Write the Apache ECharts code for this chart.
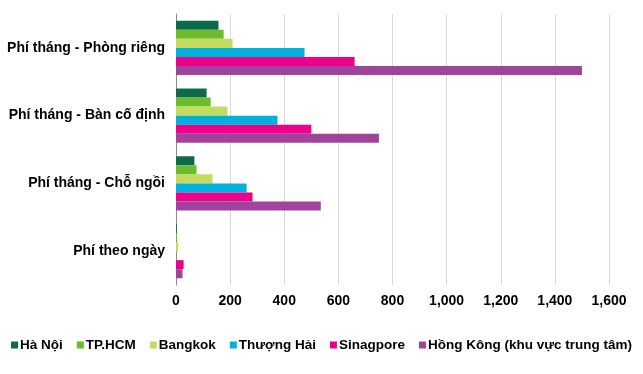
<!DOCTYPE html>
<html><head><meta charset="utf-8">
<script src="https://cdn.jsdelivr.net/npm/echarts@6/dist/echarts.min.js"></script>
<style>html,body{margin:0;padding:0;background:#fff}#c{width:643px;height:374px}</style>
</head><body><div id="c"></div>
<script>
const categories = ["Phí tháng - Phòng riêng", "Phí tháng - Bàn cố định", "Phí tháng - Chỗ ngồi", "Phí theo ngày"];
const seriesNames = ["Hà Nội", "TP.HCM", "Bangkok", "Thượng Hải", "Sinagpore", "Hồng Kông (khu vực trung tâm)"];
const haNoi = [157, 113, 68, 3];
const tpHcm = [176, 128, 76, 4];
const bangkok = [209, 190, 135, 8];
const thuongHai = [475, 375, 261, 0];
const singapore = [660, 500, 283, 28];
const hongKong = [1500, 750, 535, 24];
const colors = ["#0b6b48", "#6bbb2f", "#c3db5e", "#00b1de", "#ec008c", "#a0449b"];
const values = [haNoi, tpHcm, bangkok, thuongHai, singapore, hongKong];
const font = "'Liberation Sans', Arial, sans-serif";
const chart = echarts.init(document.getElementById('c'));
chart.setOption({
  animation: false,
  color: colors,
  grid: {left: 176, right: 34, top: 14, bottom: 89, containLabel: false},
  xAxis: {
    type: 'value', min: 0, max: 1600, interval: 200,
    axisLine: {show: false}, axisTick: {show: false},
    splitLine: {lineStyle: {color: '#d9d9d9', width: 1}},
    axisLabel: {color: '#000', fontFamily: font, fontWeight: 'bold', fontSize: 14, margin: 9,
      formatter: v => v.toLocaleString('en-US')}
  },
  yAxis: {
    type: 'category', data: categories, inverse: true,
    axisLine: {lineStyle: {color: '#8c8c8c'}}, axisTick: {show: false},
    axisLabel: {color: '#000', fontFamily: font, fontWeight: 'bold', fontSize: 14, margin: 11}
  },
  legend: {
    bottom: 17, left: 'center', itemWidth: 7, itemHeight: 7, itemGap: 14,
    icon: 'rect',
    textStyle: {color: '#000', fontFamily: font, fontWeight: 'bold', fontSize: 13.5, padding: [0,0,0,-3]},
    data: seriesNames
  },
  series: seriesNames.map((n, i) => ({
    name: n, type: 'bar', data: values[i], barGap: '0%', barCategoryGap: '20%'
  }))
});
</script></body></html>
